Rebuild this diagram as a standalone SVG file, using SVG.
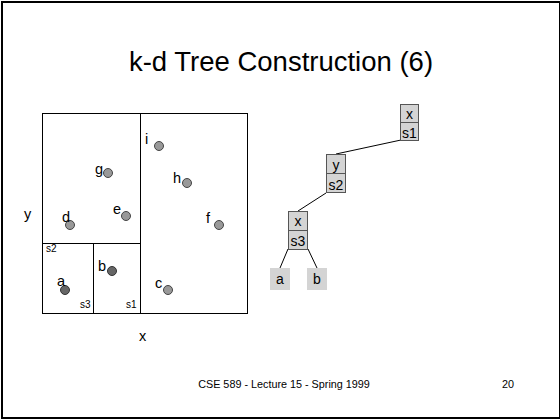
<svg xmlns="http://www.w3.org/2000/svg" width="560" height="420" viewBox="0 0 560 420">
  <style>
    text { font-family: "Liberation Sans", Arial, sans-serif; fill: #000; }
    .title { font-size: 27.5px; text-anchor: middle; }
    .lbl { font-size: 14.5px; }
    .small { font-size: 10px; }
    .foot { font-size: 10.8px; }
    .region { fill: none; stroke: #000; stroke-width: 1; }
    .pt { fill: #999; stroke: #444; stroke-width: 1; }
    .pt-dark { fill: #666; stroke: #333; stroke-width: 1; }
    .cell { fill: #d4d4d4; stroke: #555; stroke-width: 1; }
    .leaf { fill: #d4d4d4; }
    .nt { font-size: 14px; text-anchor: middle; }
    .edge { stroke: #000; stroke-width: 1; fill: none; }
  </style>

  <!-- page frame -->
  <rect x="2" y="2" width="558" height="416" fill="#fff" stroke="#000" stroke-width="2"/>

  <text class="title" x="281" y="71">k-d Tree Construction (6)</text>

  <!-- partitioned plane -->
  <g id="plane">
    <rect class="region" x="42.5" y="113.5" width="205" height="200"/>
    <line class="region" x1="140.5" y1="113.5" x2="140.5" y2="313.5"/>
    <line class="region" x1="42.5" y1="243.5" x2="140.5" y2="243.5"/>
    <line class="region" x1="93.5" y1="243.5" x2="93.5" y2="313.5"/>
    <text class="small" x="46" y="252">s2</text>
    <text class="small" x="80" y="308">s3</text>
    <text class="small" x="126" y="308">s1</text>
    <text class="lbl" x="24" y="219">y</text>
    <text class="lbl" x="139" y="341">x</text>
  </g>

  <!-- data points -->
  <g id="point-i"><circle class="pt" cx="159" cy="146" r="4.5"/><text class="lbl" x="145" y="144">i</text></g>
  <g id="point-g"><circle class="pt" cx="108" cy="173" r="4.5"/><text class="lbl" x="95" y="174">g</text></g>
  <g id="point-h"><circle class="pt" cx="187" cy="183" r="4.5"/><text class="lbl" x="173" y="183">h</text></g>
  <g id="point-e"><circle class="pt" cx="126" cy="216" r="4.5"/><text class="lbl" x="113" y="214">e</text></g>
  <g id="point-d"><circle class="pt" cx="70" cy="225" r="4.5"/><text class="lbl" x="62" y="222">d</text></g>
  <g id="point-f"><circle class="pt" cx="219" cy="225" r="4.5"/><text class="lbl" x="206" y="223">f</text></g>
  <g id="point-b"><circle class="pt-dark" cx="112" cy="271" r="4.5"/><text class="lbl" x="98" y="271">b</text></g>
  <g id="point-a"><circle class="pt-dark" cx="65" cy="290" r="4.5"/><text class="lbl" x="57" y="286">a</text></g>
  <g id="point-c"><circle class="pt" cx="168" cy="290" r="4.5"/><text class="lbl" x="155" y="288">c</text></g>

  <!-- tree edges -->
  <g id="edges">
    <line class="edge" x1="401" y1="140" x2="336" y2="154"/>
    <line class="edge" x1="326" y1="193" x2="298" y2="211"/>
    <line class="edge" x1="288" y1="249" x2="280" y2="268"/>
    <line class="edge" x1="308" y1="249" x2="317" y2="268"/>
  </g>

  <!-- tree nodes -->
  <g id="node-s1">
    <rect class="cell" x="400.5" y="104.5" width="18" height="18"/>
    <rect class="cell" x="400.5" y="122.5" width="18" height="18"/>
    <text class="nt" x="409.5" y="119">x</text>
    <text class="nt" x="409.5" y="137.5">s1</text>
  </g>
  <g id="node-s2">
    <rect class="cell" x="326.5" y="154.5" width="19" height="19"/>
    <rect class="cell" x="326.5" y="173.5" width="19" height="19"/>
    <text class="nt" x="336" y="170">y</text>
    <text class="nt" x="336" y="189.5">s2</text>
  </g>
  <g id="node-s3">
    <rect class="cell" x="288.5" y="211.5" width="19" height="19"/>
    <rect class="cell" x="288.5" y="230.5" width="19" height="19"/>
    <text class="nt" x="298" y="226">x</text>
    <text class="nt" x="298" y="245.5">s3</text>
  </g>
  <g id="leaf-a">
    <rect class="leaf" x="270" y="268" width="20" height="22"/>
    <text class="nt" x="280" y="284">a</text>
  </g>
  <g id="leaf-b">
    <rect class="leaf" x="307" y="268" width="20" height="22"/>
    <text class="nt" x="317" y="284">b</text>
  </g>

  <!-- footer -->
  <text class="foot" x="284" y="388" text-anchor="middle">CSE 589 - Lecture 15 - Spring 1999</text>
  <text class="foot" x="508" y="388" text-anchor="middle">20</text>
</svg>
